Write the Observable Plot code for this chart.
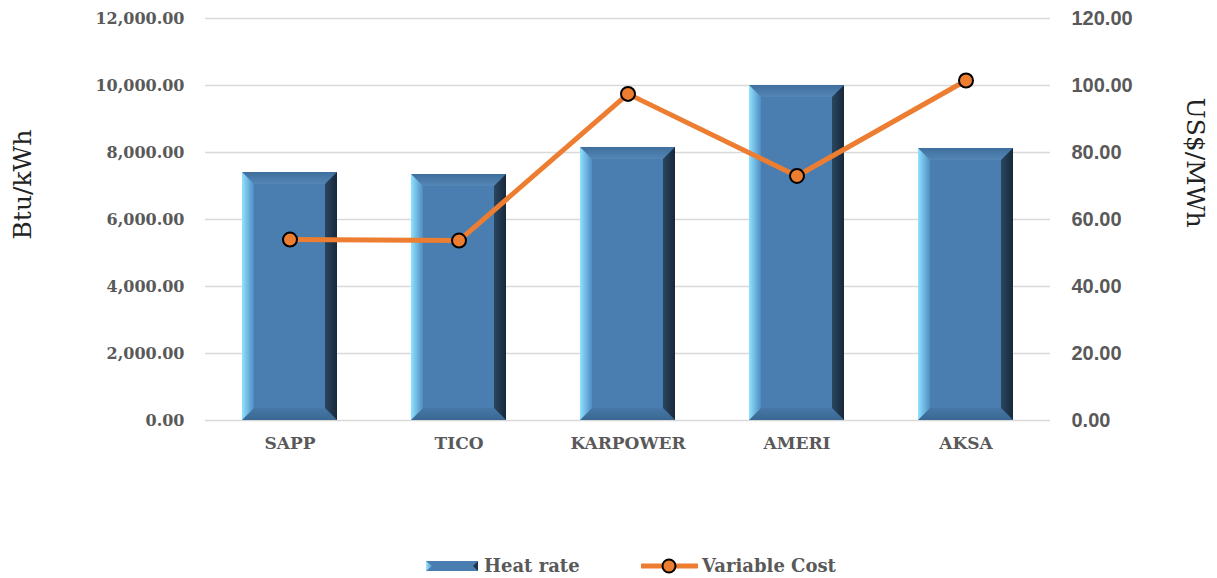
<!DOCTYPE html>
<html>
<head>
<meta charset="utf-8">
<script src="https://cdn.jsdelivr.net/npm/d3@7"></script>
<script src="https://cdn.jsdelivr.net/npm/@observablehq/plot@0.6"></script>
<style>
  html, body { margin: 0; padding: 0; background: #fff; }
  #chart svg { display: block; }
  #legend { position: relative; width: 1217px; height: 33px; font-family: "DejaVu Serif", serif; font-weight: bold; font-size: 18px; color: #595959; }
  #legend .item { position: absolute; top: 4px; height: 33px; display: flex; align-items: center; }
</style>
</head>
<body>
<div id="chart"></div>
<div id="legend">
  <div class="item" style="left:426px">
    <svg width="52" height="12" style="margin-right:6px">
      <defs>
        <linearGradient id="lgL" x1="0" x2="1" y1="0" y2="0"><stop offset="0" stop-color="#9be6ff"/><stop offset="1" stop-color="#5a98cc"/></linearGradient>
      </defs>
      <rect x="0" y="1" width="52" height="10" fill="#4a7eb0"/>
      <polygon points="0,1 6,6 0,11" fill="url(#lgL)"/>
      <polygon points="52,1 52,11 47,6" fill="#1e3347"/>
    </svg>
    <span>Heat rate</span>
  </div>
  <div class="item" style="left:641px">
    <svg width="57" height="18" style="margin-right:4px">
      <line x1="1" x2="56" y1="9" y2="9" stroke="#ed7d31" stroke-width="5" stroke-linecap="round"/>
      <circle cx="28" cy="9" r="6.5" fill="#ed7d31" stroke="#000" stroke-width="2"/>
    </svg>
    <span>Variable Cost</span>
  </div>
</div>
<script>
const categories = ["SAPP", "TICO", "KARPOWER", "AMERI", "AKSA"];
const heatRate = [7400, 7340, 8150, 10000, 8120];          // Btu/kWh
const variableCost = [54.0, 53.7, 97.5, 73.0, 101.5];      // US$/MWh
const leftTicks = [0, 2000, 4000, 6000, 8000, 10000, 12000];
const rightTicks = [0, 20, 40, 60, 80, 100, 120];
const leftLabel = "Btu/kWh";
const rightLabel = "US$/MWh";

const ratio = 12000 / 120; // right axis mapped onto left scale
const data = categories.map((name, i) => ({name, heat: heatRate[i], cost: variableCost[i]}));

const serif = "DejaVu Serif";
const sans = "Liberation Sans";

function bevel(index, scales, values, dimensions, context, next) {
  const g = next(index, scales, values, dimensions, context);
  const ns = "http://www.w3.org/2000/svg";
  const defs = document.createElementNS(ns, "defs");
  defs.innerHTML = `
    <linearGradient id="bvL" x1="0" x2="1" y1="0" y2="0"><stop offset="0" stop-color="#8fe2ff"/><stop offset="1" stop-color="#4f8cc2"/></linearGradient>
    <linearGradient id="bvR" x1="0" x2="1" y1="0" y2="0"><stop offset="0" stop-color="#2a4660"/><stop offset="1" stop-color="#18283a"/></linearGradient>
    <linearGradient id="bvT" x1="0" x2="0" y1="0" y2="1"><stop offset="0" stop-color="#3f6f9c"/><stop offset="1" stop-color="#5486b6"/></linearGradient>
    <linearGradient id="bvB" x1="0" x2="0" y1="0" y2="1"><stop offset="0" stop-color="#4677a6"/><stop offset="1" stop-color="#3a6893"/></linearGradient>`;
  g.insertBefore(defs, g.firstChild);
  const b = 12;
  g.querySelectorAll("rect").forEach(r => {
    const x0 = +r.getAttribute("x"), y0 = +r.getAttribute("y");
    const x1 = x0 + +r.getAttribute("width"), y1 = y0 + +r.getAttribute("height");
    const polys = [
      [[x0, y0], [x1, y0], [x1 - b, y0 + b], [x0 + b, y0 + b], "url(#bvT)"],
      [[x0, y1], [x1, y1], [x1 - b, y1 - b], [x0 + b, y1 - b], "url(#bvB)"],
      [[x0, y0], [x0 + b, y0 + b], [x0 + b, y1 - b], [x0, y1], "url(#bvL)"],
      [[x1, y0], [x1, y1], [x1 - b, y1 - b], [x1 - b, y0 + b], "url(#bvR)"]
    ];
    polys.forEach(p => {
      const el = document.createElementNS(ns, "polygon");
      el.setAttribute("points", p.slice(0, 4).map(q => q.join(",")).join(" "));
      el.setAttribute("fill", p[4]);
      r.parentNode.appendChild(el);
    });
  });
  return g;
}

const chart = Plot.plot({
  width: 1217,
  height: 545,
  marginLeft: 205,
  marginRight: 167,
  marginTop: 18,
  marginBottom: 125,
  style: {background: "#fff", overflow: "visible"},
  x: {domain: categories, paddingInner: 0.44, paddingOuter: 0.22, label: null},
  y: {domain: [0, 12000], label: null},
  marks: [
    Plot.gridY(leftTicks, {stroke: "#d9d9d9", strokeOpacity: 1, strokeWidth: 1.5}),
    Plot.axisY(leftTicks, {tickSize: 0, tickPadding: 21, tickFormat: d3.format(",.2f"), label: null,
      fontFamily: serif, fontWeight: "bold", fontSize: 16, fill: "#595959"}),
    Plot.axisY(rightTicks.map(v => v * ratio), {anchor: "right", tickSize: 0, tickPadding: 21,
      tickFormat: d => (d / ratio).toFixed(2), label: null,
      fontFamily: sans, fontWeight: "bold", fontSize: 20, fill: "#595959"}),
    Plot.axisX({tickSize: 0, tickPadding: 16, label: null, fontFamily: serif, fontWeight: "bold",
      fontSize: 17, fill: "#595959"}),
    Plot.barY(data, {x: "name", y: "heat", fill: "#4a7eb0", render: bevel}),
    Plot.line(data, {x: "name", y: d => d.cost * ratio, stroke: "#ed7d31", strokeWidth: 5}),
    Plot.dot(data, {x: "name", y: d => d.cost * ratio, r: 7, fill: "#ed7d31", stroke: "#000", strokeWidth: 2}),
    Plot.text([leftLabel], {frameAnchor: "left", dx: -183, dy: 20, rotate: -90, text: d => d,
      fontFamily: serif, fontSize: 25, fill: "#222"}),
    Plot.text([rightLabel], {frameAnchor: "right", dx: 144, dy: 8, rotate: 90, text: d => d,
      fontFamily: serif, fontSize: 25, fill: "#222"})
  ]
});
document.getElementById("chart").appendChild(chart);
</script>
</body>
</html>
